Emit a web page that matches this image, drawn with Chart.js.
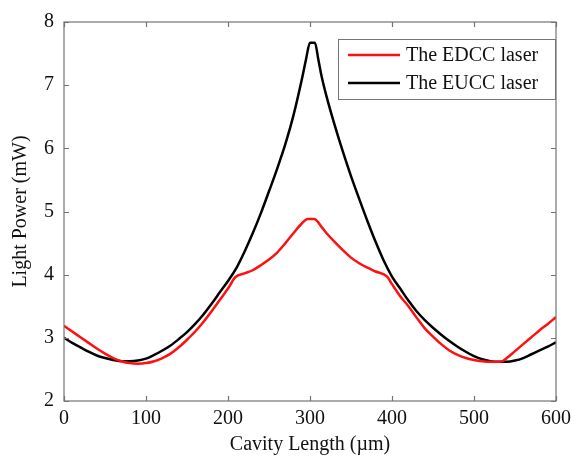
<!DOCTYPE html>
<html lang="en">
<head>
    <meta charset="UTF-8">
    <title>Light Power vs Cavity Length</title>
    <script src="https://cdn.jsdelivr.net/npm/chart.js"></script>
    <style>
        html, body { margin: 0; padding: 0; background: #fff; }
        .chart-box { position: relative; width: 577px; height: 457px; }
    </style>
</head>
<body>
    <div class="chart-box">
        <canvas id="powerChart"></canvas>
    </div>

    <script>
        // Datos
        const edccLength = [0, 10, 20, 30, 40, 50, 60, 70, 80, 90, 100, 110, 120, 130, 140, 150, 160, 170, 180, 190, 200, 209,
            220, 230, 240, 250, 260, 270, 280, 290, 297, 305, 315, 320, 330, 340, 350, 360, 370, 380, 394,
            400, 410, 420, 430, 440, 450, 460, 470, 480, 490, 500, 510, 520, 530, 535, 540, 550, 560, 570, 580, 590, 600];
        const edccPower = [3.19, 3.10, 3.01, 2.92, 2.83, 2.75, 2.68, 2.63, 2.60, 2.59, 2.60, 2.63, 2.68, 2.75, 2.85, 2.97, 3.10, 3.25, 3.42, 3.60, 3.78, 3.96,
            4.02, 4.07, 4.15, 4.24, 4.35, 4.50, 4.66, 4.81, 4.88, 4.88, 4.74, 4.66, 4.52, 4.39, 4.27, 4.18, 4.11, 4.05, 3.97,
            3.85, 3.66, 3.50, 3.32, 3.15, 3.02, 2.90, 2.80, 2.73, 2.68, 2.65, 2.63, 2.62, 2.62, 2.63, 2.68, 2.79, 2.90, 3.01, 3.12, 3.22, 3.33];

        const euccLength = [0, 10, 20, 30, 40, 50, 60, 70, 80, 90, 100, 110, 120, 130, 140, 150, 160, 170, 180, 190, 200,
            210, 220, 230, 240, 250, 260, 270, 280, 290, 295, 300, 306, 310, 314, 320, 330, 340, 350, 360, 370, 380, 390,
            400, 410, 420, 430, 440, 450, 460, 470, 480, 490, 500, 510, 520, 530, 540, 550, 560, 570, 580, 590, 600];
        const euccPower = [3.00, 2.92, 2.85, 2.78, 2.72, 2.68, 2.65, 2.63, 2.63, 2.64, 2.67, 2.73, 2.80, 2.88, 2.98, 3.09, 3.22, 3.37, 3.54, 3.72, 3.90,
            4.10, 4.36, 4.65, 4.97, 5.32, 5.68, 6.07, 6.53, 7.09, 7.40, 7.67, 7.67, 7.42, 7.15, 6.83, 6.37, 5.95, 5.56, 5.20, 4.85, 4.52, 4.22,
            3.97, 3.78, 3.59, 3.42, 3.28, 3.16, 3.05, 2.95, 2.86, 2.78, 2.71, 2.66, 2.63, 2.62, 2.62, 2.64, 2.68, 2.74, 2.80, 2.86, 2.93];

        const xTicks = [0, 100, 200, 300, 400, 500, 600];
        const yTicks = [2, 3, 4, 5, 6, 7, 8];
        const seriesLabels = ['The EDCC laser', 'The EUCC laser'];

        const serif = "'Liberation Serif', 'Times New Roman', serif";
        const axisGray = '#747474';

        function toPoints(xs, ys) {
            return xs.map((x, i) => ({ x: x, y: ys[i] }));
        }

        // Caja de ejes estilo MATLAB con marcas hacia dentro + leyenda
        const boxPlugin = {
            id: 'matlabBox',
            afterDatasetsDraw(chart) {
                const { ctx, chartArea: a, scales } = chart;
                ctx.save();
                ctx.strokeStyle = axisGray;
                ctx.lineWidth = 1.2;
                ctx.strokeRect(a.left, a.top, a.right - a.left, a.bottom - a.top);

                const tl = 5;
                ctx.beginPath();
                xTicks.forEach(v => {
                    const px = Math.round(scales.x.getPixelForValue(v)) + 0.5;
                    ctx.moveTo(px, a.bottom); ctx.lineTo(px, a.bottom - tl);
                    ctx.moveTo(px, a.top); ctx.lineTo(px, a.top + tl);
                });
                yTicks.forEach(v => {
                    const py = Math.round(scales.y.getPixelForValue(v)) + 0.5;
                    ctx.moveTo(a.left, py); ctx.lineTo(a.left + tl, py);
                    ctx.moveTo(a.right, py); ctx.lineTo(a.right - tl, py);
                });
                ctx.stroke();

                // leyenda
                const lx = 338.5, ly = 39.5, lw = 217, lh = 60;
                ctx.fillStyle = '#fff';
                ctx.fillRect(lx, ly, lw, lh);
                ctx.strokeStyle = axisGray;
                ctx.lineWidth = 1;
                ctx.strokeRect(lx, ly, lw, lh);

                ctx.font = '20px ' + serif;
                ctx.textBaseline = 'middle';
                ctx.textAlign = 'left';
                chart.data.datasets.forEach((ds, i) => {
                    const yy = 55 + i * 28;
                    ctx.strokeStyle = ds.borderColor;
                    ctx.lineWidth = 2.5;
                    ctx.beginPath();
                    ctx.moveTo(348, yy); ctx.lineTo(400, yy);
                    ctx.stroke();
                    ctx.fillStyle = '#111';
                    ctx.fillText(ds.label, 406, yy + 1);
                });
                ctx.restore();
            }
        };

        const ctx = document.getElementById('powerChart').getContext('2d');
        new Chart(ctx, {
            type: 'line',
            data: {
                datasets: [
                    {
                        label: seriesLabels[0],
                        data: toPoints(edccLength, edccPower),
                        borderColor: '#ff1010',
                        borderWidth: 2.5,
                        pointRadius: 0,
                        cubicInterpolationMode: 'monotone'
                    },
                    {
                        label: seriesLabels[1],
                        data: toPoints(euccLength, euccPower),
                        borderColor: '#000000',
                        borderWidth: 2.5,
                        pointRadius: 0,
                        cubicInterpolationMode: 'monotone'
                    }
                ]
            },
            options: {
                responsive: true,
                maintainAspectRatio: false,
                animation: false,
                layout: { padding: { top: 15, right: 16, left: 0, bottom: 0 } },
                plugins: {
                    legend: { display: false },
                    tooltip: { enabled: false }
                },
                scales: {
                    x: {
                        type: 'linear',
                        min: 0,
                        max: 600,
                        afterBuildTicks: s => { s.ticks = xTicks.map(v => ({ value: v })); },
                        afterFit: s => { s.height = 56; },
                        grid: { display: false, drawTicks: false, tickLength: 0 },
                        border: { display: false },
                        ticks: { padding: 6, color: '#111', font: { family: serif, size: 20 }, maxRotation: 0 },
                        title: {
                            display: true,
                            text: 'Cavity Length (µm)',
                            color: '#111',
                            font: { family: serif, size: 20 },
                            padding: { top: 0, bottom: 0 }
                        }
                    },
                    y: {
                        min: 2,
                        max: 8,
                        afterBuildTicks: s => { s.ticks = yTicks.map(v => ({ value: v })); },
                        afterFit: s => { s.width = 64; },
                        grid: { display: false, drawTicks: false, tickLength: 0 },
                        border: { display: false },
                        ticks: { padding: 10, color: '#111', font: { family: serif, size: 20 } },
                        title: {
                            display: true,
                            text: 'Light Power (mW)',
                            color: '#111',
                            font: { family: serif, size: 20 },
                            padding: { top: 9, bottom: 0 }
                        }
                    }
                }
            },
            plugins: [boxPlugin]
        });
    </script>
</body>
</html>
